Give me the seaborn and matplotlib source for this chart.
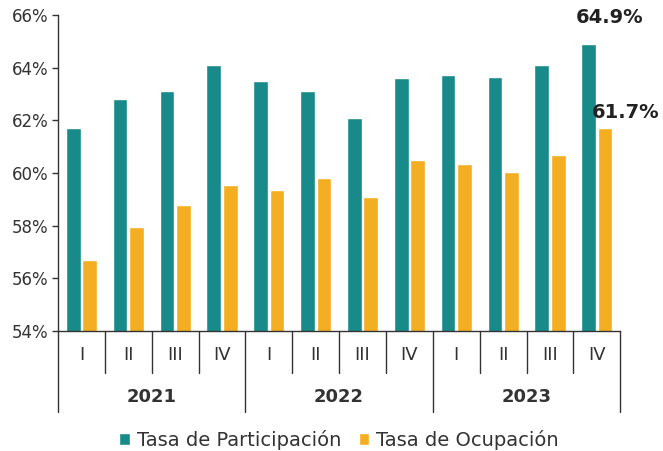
import seaborn as sns
from matplotlib import pyplot as plt
from matplotlib import transforms
import pandas as pd

years = ["2021", "2022", "2023"]
quarters = ["I", "II", "III", "IV"]
participacion = [61.7, 62.8, 63.1, 64.1, 63.5, 63.1, 62.1, 63.6, 63.7, 63.65, 64.1, 64.9]
ocupacion = [56.7, 57.95, 58.8, 59.55, 59.35, 59.8, 59.1, 60.5, 60.35, 60.05, 60.7, 61.7]
series = ["Tasa de Participación", "Tasa de Ocupación"]
colors = ["#188A8A", "#F4AE22"]

sns.set_theme(style="white")
plt.rcParams["font.family"] = ["DejaVu Sans"]

periods = [f"{q} {y}" for y in years for q in quarters]
df = pd.DataFrame({
    "periodo": periods * 2,
    "valor": participacion + ocupacion,
    "serie": [series[0]] * len(periods) + [series[1]] * len(periods),
})

fig = plt.figure(figsize=(6.63, 4.51), dpi=100)
ax = fig.add_axes([0.0875, 0.266, 0.848, 0.701])

sns.barplot(data=df, x="periodo", y="valor", hue="serie", palette=colors,
            width=0.7, gap=0.1, ax=ax, saturation=1, legend=True)

ax.set_ylim(54, 66)
ax.set_xlim(-0.5, len(periods) - 0.5)
ax.set_yticks(range(54, 67, 2))
ax.set_yticklabels([f"{v}%" for v in range(54, 67, 2)], fontsize=12, color="#333333")
ax.tick_params(axis="y", length=4, width=1, color="#333333", pad=3, left=True)
ax.set_xticks([])
ax.set_xlabel("")
ax.set_ylabel("")
sns.despine(ax=ax, top=True, right=True)
for s in ["left", "bottom"]:
    ax.spines[s].set_color("#333333")
    ax.spines[s].set_linewidth(1)

# category axis: quarters and years with separators
tr = transforms.blended_transform_factory(ax.transData, ax.transAxes)
for i, p in enumerate(periods):
    ax.text(i, -0.076, p.split()[0], transform=tr, ha="center", va="center",
            fontsize=13, color="#333333")
for i in range(len(periods) + 1):
    x = i - 0.5
    low = -0.256 if i % 4 == 0 else -0.133
    ax.plot([x, x], [0, low], transform=tr, color="#333333", lw=1, clip_on=False)
for j, y in enumerate(years):
    ax.text(j * 4 + 1.5, -0.209, y, transform=tr, ha="center", va="center",
            fontsize=13, fontweight="bold", color="#333333")

# highlight last values
ax.annotate(f"{participacion[-1]:.1f}%", (11 - 0.17, participacion[-1]),
            xytext=(15, 19), textcoords="offset points", ha="center", va="center",
            fontsize=14, fontweight="bold", color="#222222")
ax.annotate(f"{ocupacion[-1]:.1f}%", (11 + 0.17, ocupacion[-1]),
            xytext=(15, 11), textcoords="offset points", ha="center", va="center",
            fontsize=14, fontweight="bold", color="#222222")

handles, labels = ax.get_legend_handles_labels()
ax.legend(handles, labels, loc="center", bbox_to_anchor=(0.5, -0.345),
          ncol=2, frameon=False, fontsize=14, handlelength=0.55, handleheight=0.55,
          handletextpad=0.35, columnspacing=0.9, labelcolor="#333333")

fig.savefig("out.png", dpi=100)
